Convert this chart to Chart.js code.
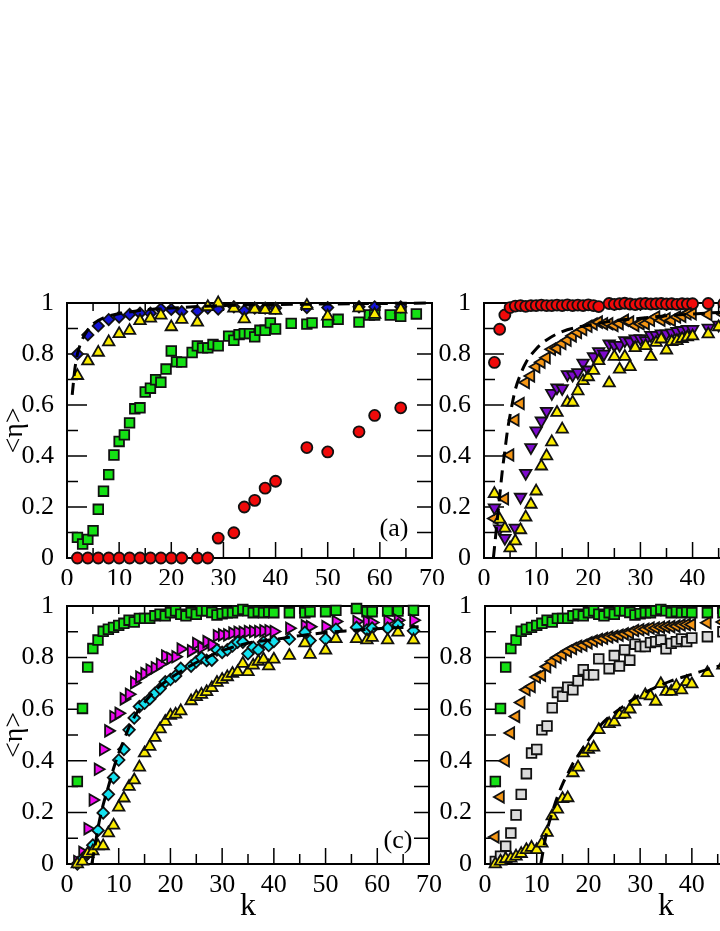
<!DOCTYPE html>
<html>
<head>
<meta charset="utf-8">
<script src="https://cdn.jsdelivr.net/npm/chart.js@4.4.1/dist/chart.umd.min.js"></script>
<style>
  html, body { margin: 0; padding: 0; background: #fff; overflow: hidden; }
  body { width: 720px; height: 931px; position: relative; }
  canvas { position: absolute; }
</style>
</head>
<body>
<canvas id="pa" width="470" height="300" style="left:0px;top:285px"></canvas>
<canvas id="pb" width="470" height="300" style="left:417px;top:285px"></canvas>
<canvas id="pc" width="470" height="343" style="left:0px;top:588px"></canvas>
<canvas id="pd" width="470" height="343" style="left:418px;top:588px"></canvas>
<script>
// axis tick labels
const xTickLabels = ['0', '10', '20', '30', '40', '50', '60', '70'];
const yTickLabels = ['0', '0.2', '0.4', '0.6', '0.8', '1'];

// ---- panel (a) ----
const kA = [2, 4, 6, 8, 10, 12, 14, 16, 18, 20, 22, 25, 27, 29, 32, 34, 36, 38, 40, 46, 50, 56, 59, 64];
const redA = [0, 0, 0, 0, 0, 0, 0, 0, 0, 0, 0, 0, 0, 0.078, 0.099, 0.2, 0.226, 0.274, 0.301, 0.433, 0.416, 0.495, 0.559, 0.589];
const blueA = [0.80, 0.875, 0.91, 0.935, 0.945, 0.955, 0.96, 0.96, 0.977, 0.975, 0.966, 0.968, 0.98, 0.976, 0.985, 0.97, 0.98, 0.98, 0.98, 0.982, 0.982, 0.985, 0.985, 0.985];
const yellowA = [0.715, 0.772, 0.806, 0.847, 0.879, 0.892, 0.93, 0.94, 0.952, 0.906, 0.935, 0.924, 0.985, 1.0, 0.979, 0.937, 0.975, 0.973, 0.97, 0.99, 0.948, 0.98, 0.955, 0.975];
const kGreenA = [2, 3, 4, 5, 6, 7, 8, 9, 10, 11, 12, 13, 14, 15, 16, 17, 18, 19, 20, 21, 22, 24, 25, 26, 27, 28, 29, 31, 32, 33, 34, 35, 36, 37, 38, 39, 40, 43, 46, 47, 50, 52, 56, 58, 59, 62, 64, 67];
const greenA = [0.081, 0.055, 0.073, 0.107, 0.191, 0.262, 0.327, 0.404, 0.457, 0.483, 0.53, 0.585, 0.589, 0.651, 0.666, 0.699, 0.689, 0.741, 0.812, 0.769, 0.768, 0.806, 0.832, 0.824, 0.824, 0.837, 0.832, 0.87, 0.854, 0.876, 0.88, 0.88, 0.867, 0.893, 0.893, 0.922, 0.898, 0.92, 0.917, 0.922, 0.925, 0.936, 0.925, 0.953, 0.953, 0.953, 0.948, 0.957];
const kFitA = [1, 1.5, 2, 2.5, 3, 4, 5, 7, 10, 13, 16, 20, 25, 30, 40, 50, 60, 70];
const fitA = [0.64, 0.74, 0.80, 0.835, 0.86, 0.895, 0.918, 0.942, 0.958, 0.968, 0.975, 0.98, 0.986, 0.99, 0.994, 0.996, 0.998, 1.0];

// ---- panel (b) ----
const kRedB = [2, 3, 4, 5, 6, 7, 8, 9, 10, 11, 12, 13, 14, 15, 16, 17, 18, 19, 20, 21, 22, 24, 25, 26, 27, 28, 29, 30, 31, 32, 33, 34, 35, 36, 37, 38, 39, 40, 43, 46, 50, 56, 60, 64, 67];
const redB = [0.767, 0.897, 0.953, 0.982, 0.988, 0.99, 0.987, 0.99, 0.99, 0.992, 0.99, 0.99, 0.992, 0.99, 0.993, 0.99, 0.992, 0.99, 0.993, 0.99, 0.986, 0.998, 0.995, 0.997, 0.999, 0.996, 0.994, 0.997, 0.998, 0.996, 0.997, 0.998, 0.996, 0.997, 0.995, 0.997, 0.996, 0.997, 0.998, 0.998, 0.998, 0.998, 0.998, 0.998, 0.998];
const kOrangeB = [2, 4, 5, 6, 7, 8, 9, 10, 11, 12, 13, 14, 15, 16, 17, 18, 19, 20, 21, 22, 23, 24, 25, 26, 27, 28, 29, 30, 31, 32, 33, 34, 35, 36, 37, 38, 39, 40, 43, 46, 50, 56, 60, 64, 67];
const orangeB = [0.155, 0.232, 0.404, 0.541, 0.606, 0.688, 0.714, 0.75, 0.768, 0.785, 0.819, 0.822, 0.841, 0.854, 0.871, 0.884, 0.896, 0.909, 0.918, 0.925, 0.919, 0.919, 0.912, 0.919, 0.932, 0.925, 0.912, 0.919, 0.919, 0.932, 0.945, 0.932, 0.938, 0.932, 0.945, 0.948, 0.958, 0.958, 0.955, 0.955, 0.96, 0.96, 0.962, 0.963, 0.965];
const kPurpleB = [2, 3, 4, 6, 7, 8, 9, 10, 11, 12, 13, 14, 15, 16, 17, 18, 19, 20, 21, 22, 23, 24, 25, 26, 27, 28, 29, 30, 31, 32, 33, 34, 35, 36, 37, 38, 39, 40, 43, 45, 50, 56, 60, 64, 67];
const purpleB = [0.197, 0.115, 0.078, 0.118, 0.239, 0.333, 0.434, 0.499, 0.538, 0.576, 0.646, 0.668, 0.665, 0.72, 0.718, 0.728, 0.765, 0.738, 0.79, 0.81, 0.80, 0.84, 0.835, 0.835, 0.853, 0.848, 0.86, 0.861, 0.853, 0.874, 0.874, 0.88, 0.88, 0.884, 0.889, 0.893, 0.897, 0.897, 0.902, 0.914, 0.92, 0.925, 0.93, 0.935, 0.94];
const kYellowB = [2, 3, 4, 5, 6, 7, 8, 9, 10, 11, 12, 13, 14, 15, 16, 17, 18, 19, 20, 21, 22, 24, 25, 26, 27, 28, 29, 31, 32, 33, 34, 35, 36, 37, 38, 39, 40, 43, 45, 50, 56, 60, 64, 67];
const yellowB = [0.252, 0.152, 0.116, 0.039, 0.066, 0.11, 0.16, 0.21, 0.262, 0.36, 0.40, 0.455, 0.57, 0.505, 0.61, 0.61, 0.655, 0.695, 0.71, 0.735, 0.773, 0.686, 0.79, 0.74, 0.79, 0.75, 0.824, 0.832, 0.79, 0.845, 0.858, 0.815, 0.848, 0.852, 0.86, 0.866, 0.87, 0.878, 0.906, 0.91, 0.92, 0.925, 0.93, 0.935];
const kFitB = [1.8, 2, 2.5, 3, 3.5, 4, 4.5, 5, 6, 7, 8, 10, 12, 15, 20, 25, 30, 35, 40, 45, 50, 60, 70];
const fitB = [0, 0.04, 0.14, 0.24, 0.34, 0.42, 0.5, 0.56, 0.66, 0.72, 0.765, 0.82, 0.855, 0.888, 0.913, 0.93, 0.94, 0.95, 0.957, 0.963, 0.968, 0.975, 0.98];

// ---- panels (c) and (d): the green squares are the same set ----
const kGreen = [2, 3, 4, 5, 6, 7, 8, 9, 10, 11, 12, 13, 14, 15, 16, 17, 18, 19, 20, 21, 22, 23, 24, 25, 26, 27, 28, 29, 30, 31, 32, 33, 34, 35, 36, 37, 38, 39, 40, 43, 46, 47, 50, 52, 56, 58, 59, 62, 64, 67];
const green = [0.32, 0.603, 0.763, 0.835, 0.868, 0.902, 0.91, 0.917, 0.925, 0.933, 0.945, 0.938, 0.952, 0.952, 0.952, 0.962, 0.968, 0.962, 0.974, 0.981, 0.968, 0.962, 0.974, 0.968, 0.981, 0.981, 0.975, 0.965, 0.97, 0.974, 0.974, 0.981, 0.987, 0.981, 0.974, 0.978, 0.974, 0.976, 0.974, 0.974, 0.974, 0.978, 0.978, 0.983, 0.99, 0.978, 0.978, 0.98, 0.98, 0.983];

// ---- panel (c) ----
const kC = [2, 3, 4, 5, 6, 7, 8, 9, 10, 11, 12, 13, 14, 15, 16, 17, 18, 19, 20, 21, 22, 24, 25, 26, 27, 28, 29, 30, 31, 32, 33, 34, 35, 36, 37, 38, 39, 40, 43, 46, 47, 50, 52, 56, 58, 59, 62, 64, 67];
const magentaC = [0.01, 0.045, 0.137, 0.248, 0.367, 0.444, 0.516, 0.571, 0.584, 0.64, 0.658, 0.703, 0.725, 0.738, 0.752, 0.761, 0.774, 0.806, 0.797, 0.803, 0.833, 0.826, 0.855, 0.839, 0.862, 0.85, 0.885, 0.888, 0.888, 0.895, 0.898, 0.898, 0.901, 0.901, 0.901, 0.904, 0.904, 0.901, 0.914, 0.923, 0.92, 0.92, 0.94, 0.94, 0.94, 0.936, 0.942, 0.945, 0.945];
const cyanC = [0.0, 0.02, 0.04, 0.073, 0.13, 0.198, 0.27, 0.335, 0.403, 0.444, 0.52, 0.566, 0.61, 0.623, 0.64, 0.662, 0.68, 0.706, 0.715, 0.729, 0.758, 0.767, 0.784, 0.8, 0.789, 0.79, 0.83, 0.82, 0.83, 0.845, 0.86, 0.86, 0.815, 0.84, 0.83, 0.86, 0.847, 0.863, 0.872, 0.898, 0.866, 0.872, 0.91, 0.917, 0.907, 0.914, 0.914, 0.927, 0.904];
const yellowC = [0.0, 0.01, 0.04, 0.05, 0.07, 0.07, 0.12, 0.15, 0.22, 0.255, 0.3, 0.325, 0.375, 0.43, 0.455, 0.49, 0.523, 0.552, 0.575, 0.58, 0.593, 0.632, 0.648, 0.657, 0.667, 0.683, 0.703, 0.715, 0.725, 0.738, 0.745, 0.777, 0.745, 0.77, 0.785, 0.793, 0.767, 0.793, 0.808, 0.856, 0.812, 0.828, 0.873, 0.873, 0.868, 0.878, 0.868, 0.898, 0.868];
const kFitC = [4.8, 5.5, 6, 6.5, 7, 8, 9, 10, 11, 12, 13, 14, 16, 18, 20, 24, 28, 32, 36, 40, 45, 50, 55, 60, 65, 68];
const fitC = [0, 0.08, 0.14, 0.19, 0.23, 0.3, 0.37, 0.43, 0.48, 0.53, 0.57, 0.6, 0.65, 0.69, 0.72, 0.77, 0.81, 0.84, 0.86, 0.87, 0.885, 0.897, 0.905, 0.912, 0.917, 0.92];

// ---- panel (d) ----
const kOrangeD = [2, 3, 4, 5, 6, 7, 8, 9, 10, 11, 12, 13, 14, 15, 16, 17, 18, 19, 20, 21, 22, 23, 24, 25, 26, 27, 28, 29, 30, 31, 32, 33, 34, 35, 36, 37, 38, 39, 40, 43, 46, 50, 56, 60, 64, 67];
const orangeD = [0.105, 0.26, 0.40, 0.508, 0.572, 0.626, 0.675, 0.688, 0.725, 0.732, 0.765, 0.785, 0.80, 0.812, 0.825, 0.835, 0.844, 0.848, 0.857, 0.864, 0.87, 0.875, 0.88, 0.883, 0.887, 0.892, 0.896, 0.905, 0.908, 0.91, 0.915, 0.915, 0.918, 0.919, 0.92, 0.922, 0.926, 0.928, 0.928, 0.935, 0.938, 0.94, 0.945, 0.948, 0.95, 0.952];
const kGrayD = [2, 3, 4, 5, 6, 7, 8, 9, 10, 11, 12, 13, 14, 15, 16, 17, 18, 19, 20, 21, 22, 24, 25, 26, 27, 28, 29, 30, 31, 32, 33, 34, 35, 36, 37, 38, 39, 40, 43, 46, 50, 56, 60, 64, 67];
const grayD = [0.01, 0.03, 0.069, 0.12, 0.19, 0.27, 0.35, 0.43, 0.444, 0.52, 0.535, 0.605, 0.665, 0.65, 0.685, 0.675, 0.71, 0.753, 0.733, 0.733, 0.795, 0.757, 0.808, 0.767, 0.83, 0.79, 0.852, 0.843, 0.843, 0.858, 0.862, 0.868, 0.834, 0.855, 0.862, 0.872, 0.862, 0.876, 0.881, 0.9, 0.9, 0.91, 0.915, 0.92, 0.92];
const kYellowD = [2, 3, 4, 5, 6, 7, 8, 9, 10, 11, 12, 13, 14, 15, 16, 17, 18, 19, 20, 21, 22, 24, 25, 26, 27, 28, 29, 31, 32, 33, 34, 35, 36, 37, 38, 39, 40, 43, 46, 50, 56, 60, 64, 67];
const yellowD = [0, 0.01, 0.02, 0.022, 0.03, 0.04, 0.055, 0.064, 0.055, 0.08, 0.122, 0.186, 0.212, 0.253, 0.256, 0.353, 0.375, 0.43, 0.444, 0.452, 0.52, 0.543, 0.55, 0.578, 0.58, 0.6, 0.63, 0.655, 0.651, 0.63, 0.698, 0.668, 0.668, 0.69, 0.674, 0.706, 0.697, 0.741, 0.77, 0.79, 0.81, 0.83, 0.845, 0.85];
const kFitD = [10.8, 11.5, 12, 13, 14, 15, 16, 17, 18, 19, 20, 22, 24, 26, 28, 30, 33, 36, 40, 44, 48, 55, 62, 70];
const fitD = [0, 0.08, 0.13, 0.2, 0.26, 0.31, 0.35, 0.39, 0.42, 0.45, 0.48, 0.53, 0.57, 0.6, 0.63, 0.655, 0.685, 0.71, 0.735, 0.76, 0.78, 0.81, 0.835, 0.855];

const RED = 'rgb(240,10,10)';
const GREEN = 'rgb(20,225,20)';
const BLUE = 'rgb(20,20,215)';
const YELLOW = 'rgb(250,235,0)';
const ORANGE = 'rgb(245,150,20)';
const PURPLE = 'rgb(125,10,205)';
const MAGENTA = 'rgb(240,10,240)';
const CYAN = 'rgb(20,225,240)';
const GRAY = 'rgb(220,220,220)';

Chart.defaults.font.family = 'Liberation Serif';
Chart.defaults.color = '#000';

const pts = (xs, ys) => xs.map((x, i) => ({ x: x, y: ys[i] }));

function marks(xs, ys, style, color, radius, rotation) {
  return {
    data: pts(xs, ys),
    pointStyle: style,
    pointRadius: radius,
    pointRotation: rotation || 0,
    backgroundColor: color,
    borderColor: '#111',
    borderWidth: 1.8,
    clip: false
  };
}

function fitLine(xs, ys) {
  return {
    data: pts(xs, ys),
    showLine: true,
    pointRadius: 0,
    borderColor: '#000',
    borderWidth: 3,
    borderDash: [12, 7],
    cubicInterpolationMode: 'monotone',
    clip: false
  };
}

// frame, inward tick marks and the panel tag
const axisBox = {
  id: 'axisBox',
  beforeDatasetsDraw(chart) {
    const { ctx, chartArea: a, scales: { x, y } } = chart;
    const xv = x.ticks.map(t => t.value);
    const yv = y.ticks.map(t => t.value);
    const mid = v => v.slice(1).map((w, i) => (w + v[i]) / 2);

    ctx.save();
    ctx.strokeStyle = '#000';
    ctx.lineWidth = 1.5;
    ctx.beginPath();
    const seg = (x1, y1, x2, y2) => { ctx.moveTo(x1, y1); ctx.lineTo(x2, y2); };
    xv.forEach(v => {
      const p = x.getPixelForValue(v);
      seg(p, a.bottom, p, a.bottom - 16);
      seg(p, a.top, p, a.top + 8);
    });
    mid(xv).forEach(v => {
      const p = x.getPixelForValue(v);
      seg(p, a.bottom, p, a.bottom - 10);
      seg(p, a.top, p, a.top + 8);
    });
    yv.forEach(v => {
      const p = y.getPixelForValue(v);
      seg(a.left, p, a.left + 20, p);
      seg(a.right, p, a.right - 15, p);
    });
    mid(yv).forEach(v => {
      const p = y.getPixelForValue(v);
      seg(a.left, p, a.left + 11, p);
      seg(a.right, p, a.right - 15, p);
    });
    ctx.stroke();
    ctx.lineWidth = 2;
    ctx.strokeRect(a.left, a.top, a.right - a.left, a.bottom - a.top);
    ctx.restore();
  },
  afterDraw(chart, args, opts) {
    if (!opts.tag) return;
    const { ctx, scales: { x, y } } = chart;
    ctx.save();
    ctx.font = '26px "Liberation Serif"';
    ctx.fillStyle = '#000';
    ctx.textAlign = 'center';
    ctx.textBaseline = 'middle';
    ctx.fillText(opts.tag, x.getPixelForValue(opts.at[0]), y.getPixelForValue(opts.at[1]));
    ctx.restore();
  }
};

function panel(id, datasets, o) {
  return new Chart(document.getElementById(id), {
    type: 'scatter',
    data: { datasets: datasets },
    options: {
      responsive: false,
      animation: false,
      layout: { padding: { top: o.top, right: o.right, bottom: 0, left: 0 } },
      plugins: {
        legend: { display: false },
        tooltip: { enabled: false },
        axisBox: { tag: o.tag, at: o.tagAt }
      },
      scales: {
        x: {
          type: 'linear',
          min: 0,
          max: 70,
          grid: { display: false },
          border: { display: false },
          ticks: {
            stepSize: 10,
            autoSkip: false,
            maxRotation: 0,
            padding: 0,
            font: { size: 26, lineHeight: 1 },
            callback: (v, i) => xTickLabels[i]
          },
          title: {
            display: o.xTitle,
            text: 'k',
            font: { size: 32, lineHeight: 1 },
            padding: { top: 0, bottom: 8 }
          },
          afterFit: s => { s.height = o.xh; }
        },
        y: {
          type: 'linear',
          min: 0,
          max: 1,
          grid: { display: false },
          border: { display: false },
          ticks: {
            stepSize: 0.2,
            padding: 5,
            font: { size: 26, lineHeight: 1 },
            callback: (v, i) => yTickLabels[i]
          },
          title: {
            display: o.yTitle,
            text: '<η>',
            font: { size: 28, lineHeight: 1 },
            padding: { top: 1, bottom: 0 }
          },
          afterFit: s => { s.width = 67; }
        }
      }
    },
    plugins: [axisBox]
  });
}

panel('pa', [
  fitLine(kFitA, fitA),
  marks(kA, yellowA, 'triangle', YELLOW, 6.6),
  marks(kA, blueA, 'rectRot', BLUE, 5.6),
  marks(kGreenA, greenA, 'rect', GREEN, 6.8),
  marks(kA, redA, 'circle', RED, 5.5)
], { top: 16, right: 38, xh: 27, xTitle: false, yTitle: true, tag: '(a)', tagAt: [62.7, 0.115] });

panel('pb', [
  fitLine(kFitB, fitB),
  marks(kYellowB, yellowB, 'triangle', YELLOW, 6.6),
  marks(kPurpleB, purpleB, 'triangle', PURPLE, 6.6, 180),
  marks(kOrangeB, orangeB, 'triangle', ORANGE, 6.6, -90),
  marks(kRedB, redB, 'circle', RED, 5.5)
], { top: 16, right: 38, xh: 27, xTitle: false, yTitle: false });

panel('pc', [
  fitLine(kFitC, fitC),
  marks(kC, yellowC, 'triangle', YELLOW, 6.6),
  marks(kC, cyanC, 'rectRot', CYAN, 5.8),
  marks(kC, magentaC, 'triangle', MAGENTA, 6.6, 90),
  marks(kGreen, green, 'rect', GREEN, 6.8)
], { top: 15, right: 41, xh: 67, xTitle: true, yTitle: true, tag: '(c)', tagAt: [64, 0.09] });

panel('pd', [
  fitLine(kFitD, fitD),
  marks(kYellowD, yellowD, 'triangle', YELLOW, 6.6),
  marks(kGrayD, grayD, 'rect', GRAY, 6.8),
  marks(kOrangeD, orangeD, 'triangle', ORANGE, 6.6, -90),
  marks(kGreen, green, 'rect', GREEN, 6.8)
], { top: 15, right: 41, xh: 67, xTitle: true, yTitle: false });
</script>
</body>
</html>
